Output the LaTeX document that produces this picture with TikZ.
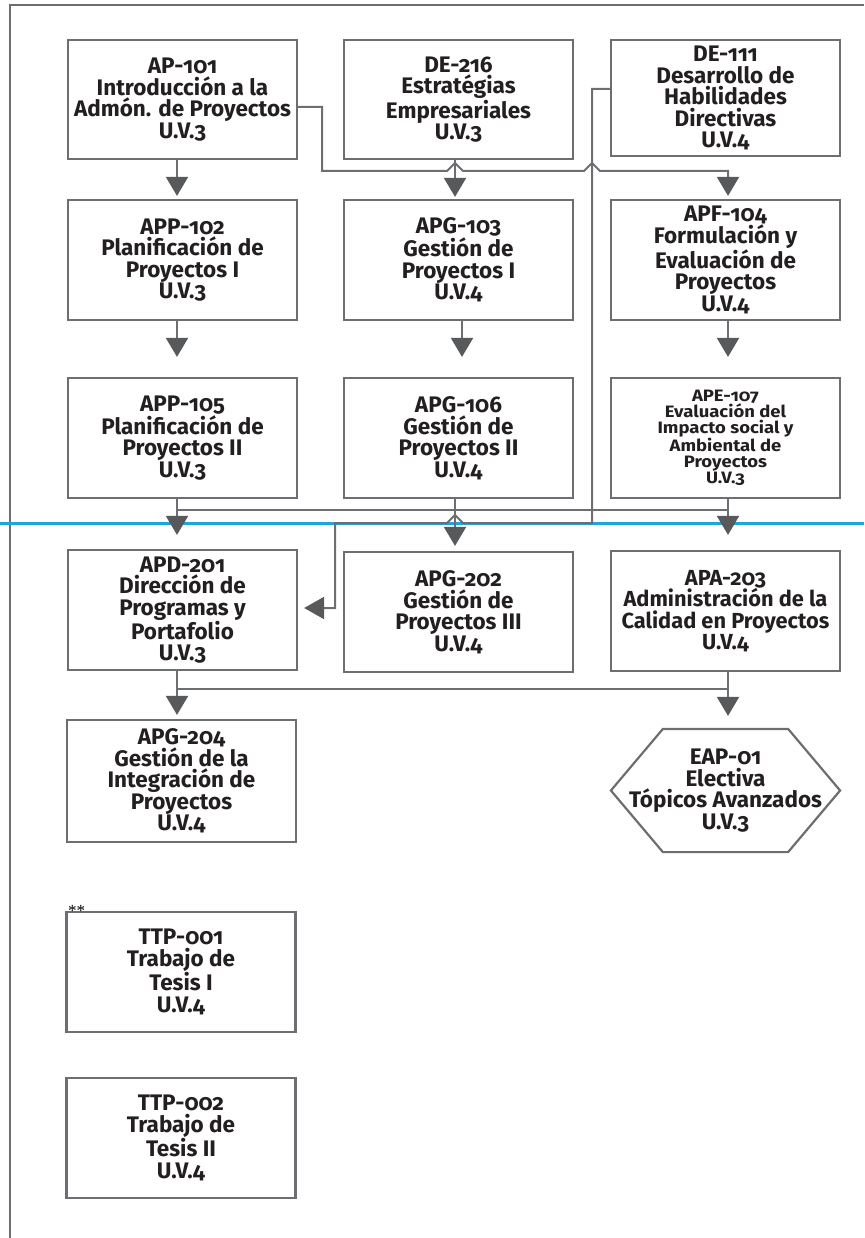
\documentclass[tikz,border=0pt]{standalone}
\usepackage{fontspec}
\setmainfont{Fira Sans}[Numbers=OldStyle]
\newfontfamily\apefont{Fira Sans}[Numbers=OldStyle, FakeStretch=1.12]
\newfontfamily\astfont{Liberation Serif}
\usetikzlibrary{arrows.meta,calc}
\definecolor{linec}{HTML}{6D6E71}
\definecolor{arrowc}{HTML}{58595B}
\definecolor{txtc}{HTML}{231F20}
\definecolor{bluec}{HTML}{1FA5DE}
\begin{document}
\begin{tikzpicture}[x=1pt,y=-1pt,
  box/.style={draw=linec, line width=2.2pt, minimum width=229pt, minimum height=120pt,
    inner sep=0pt, align=center, text=txtc, font=\fontsize{22.5}{21.5}\selectfont\bfseries},
  conn/.style={draw=linec, line width=2pt},
  arr/.style={-{Triangle[width=22pt,length=19pt,color=arrowc]}},
  larr/.style={-{Triangle[width=22pt,length=20pt,color=arrowc]}}]
\useasboundingbox (0,0) rectangle (864,1238);
% page frame and blue line
\draw[linec, line width=2pt] (10,1238) -- (10,5) -- (864,5);
\draw[bluec, line width=3pt] (0,523) -- (864,523);
% boxes
\node[box, minimum height=119pt] (ap101) at (182.5,99.5) {AP-101\\Introducción a la\\Admón. de Proyectos\\U.V.3};
\node[box, minimum height=119pt] (de216) at (458.5,99.5) {DE-216\\Estratégias\\Empresariales\\U.V.3};
\node[box, minimum height=116pt] (de111) at (725.5,98) {DE-111\\Desarrollo de\\Habilidades\\Directivas\\U.V.4};
\node[box] (app102) at (182.5,260) {APP-102\\Planificación de\\Proyectos I\\U.V.3};
\node[box] (apg103) at (458.5,260) {APG-103\\Gestión de\\Proyectos I\\U.V.4};
\node[box] (apf104) at (725.5,260) {APF-104\\Formulación y\\Evaluación de\\Proyectos\\U.V.4};
\node[box] (app105) at (182.5,438) {APP-105\\Planificación de\\Proyectos II\\U.V.3};
\node[box] (apg106) at (458.5,438) {APG-106\\Gestión de\\Proyectos II\\U.V.4};
\node[box, font=\apefont\fontsize{16.5}{16}\selectfont\bfseries] (ape107) at (725.5,438) {APE-107\\Evaluación del\\Impacto social y\\Ambiental de\\Proyectos\\U.V.3};
\node[box] (apd201) at (182.5,610) {APD-201\\Dirección de\\Programas y\\Portafolio\\U.V.3};
\node[box] (apg202) at (458.5,612) {APG-202\\Gestión de\\Proyectos III\\U.V.4};
\node[box, font=\fontsize{21.8}{21.5}\selectfont\bfseries] (apa203) at (725.5,611) {APA-203\\Administración de la\\Calidad en Proyectos\\U.V.4};
\node[box, minimum height=122pt] (apg204) at (181.5,781) {APG-204\\Gestión de la\\Integración de\\Proyectos\\U.V.4};
\node[box, draw=none, minimum width=227pt, minimum height=121pt] (eap01) at (725.5,790.5) {EAP-01\\Electiva\\Tópicos Avanzados\\U.V.3};
\draw[line width=2.2pt, linec] (eap01.west) -- ($(eap01.north west)+(52,0)$) -- ($(eap01.north east)+(-52,0)$) -- (eap01.east) -- ($(eap01.south east)+(-52,0)$) -- ($(eap01.south west)+(52,0)$) -- cycle;
\node[box] (ttp001) at (181,972) {TTP-001\\Trabajo de\\Tesis I\\U.V.4};
\node[box] (ttp002) at (181,1138) {TTP-002\\Trabajo de\\Tesis II\\U.V.4};
\node[anchor=base west, font=\astfont\fontsize{17}{17}\selectfont, text=black, inner sep=0pt] (ast) at (68,916) {**};
% row 1 connectors
\draw[conn, arr, shorten >=3pt] (177,0 |- ap101.south) -- (177,0 |- app102.north);
\draw[conn, arr, shorten >=2pt] (455,0 |- de216.south) -- (455,0 |- apg103.north);
\draw[conn, arr, shorten >=3pt] ($(ap101.east)+(0,7.5)$) -- (322,107) -- (322,171) -- (447,171) -- (455,163) -- (463,171) -- (584,171) -- (592,163) -- (600,171) -- (728,171) -- (728,0 |- apf104.north);
% row 2 connectors
\draw[conn, arr, shorten >=20pt] (177,0 |- app102.south) -- (177,0 |- app105.north);
\draw[conn, arr, shorten >=20pt] (462,0 |- apg103.south) -- (462,0 |- apg106.north);
\draw[conn, arr, shorten >=20pt] (728,0 |- apf104.south) -- (728,0 |- ape107.north);
% row 3 merge
\draw[conn] (177,0 |- app105.south) -- (177,510) -- (728,510) -- (728,0 |- ape107.south);
\draw[conn] (455,0 |- apg106.south) -- (455,510);
\draw[conn, arr, shorten >=14pt] (177,510) -- (177,0 |- apd201.north);
\draw[conn, arr, shorten >=5pt] (455,510) -- (455,0 |- apg202.north);
\draw[conn, arr, shorten >=15pt] (728,510) -- (728,0 |- apa203.north);
% DE-111 to APD-201
\draw[conn, larr, shorten >=6pt] ($(de111.west)+(0,-9)$) -- (592,89) -- (592,523) -- (463,523) -- (455,515) -- (447,523) -- (335,523) -- (335,608) -- (apd201.east |- 0,608);
% row 4 merge
\draw[conn] (177,0 |- apd201.south) -- (177,689) -- (728,689) -- (728,0 |- apa203.south);
\draw[conn, arr, shorten >=4pt] (177,689) -- (177,0 |- apg204.north);
\draw[conn, arr, shorten >=13pt] (728,689) -- (728,0 |- eap01.north);
\end{tikzpicture}
\end{document}
